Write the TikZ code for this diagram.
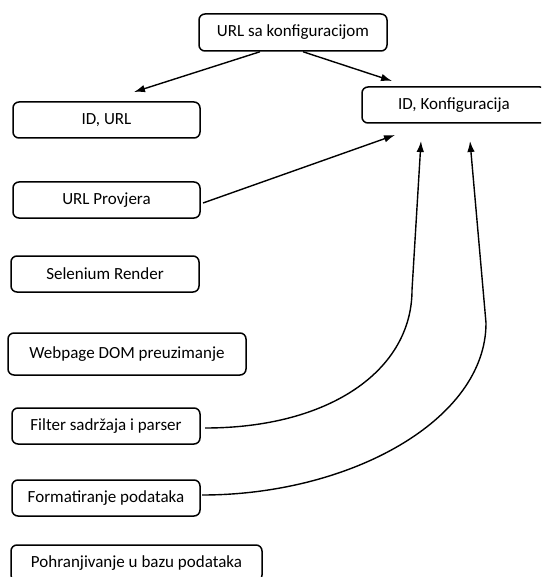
\documentclass[tikz,border=0pt]{standalone}
\usepackage{fontspec}
\setmainfont{Carlito}
\usetikzlibrary{arrows.meta}
\begin{document}
\begin{tikzpicture}[x=1pt,y=-1pt,
  box/.style={draw=black, line width=1.5pt, rounded corners=6pt, inner sep=0pt,
    font=\fontsize{17}{20}\selectfont, align=center},
  arr/.style={line width=1.4pt, -{Latex[length=11pt,width=7.5pt]}},
  lnk/.style={line width=1.4pt}]
\clip (0,0) rectangle (541,577);
\useasboundingbox (0,0) rectangle (541,577);
\fill[white] (0,0) rectangle (541,577);

\node[box, minimum width=188pt, minimum height=37pt] (top) at (293,32.5) {URL sa konfiguracijom};
\node[box, minimum width=187pt, minimum height=36pt] (idurl) at (106.5,120) {ID, URL};
\node[box, minimum width=184pt, minimum height=36pt] (idkonf) at (454,105) {ID, Konfiguracija};
\node[box, minimum width=187pt, minimum height=36pt] (urlprov) at (106.5,200) {URL Provjera};
\node[box, minimum width=188pt, minimum height=36pt] (selen) at (105,274) {Selenium Render};
\node[box, minimum width=238pt, minimum height=42pt] (webdom) at (127,354) {Webpage DOM preuzimanje};
\node[box, minimum width=188pt, minimum height=36pt] (filter) at (106,426) {Filter sadržaja i parser};
\node[box, minimum width=188pt, minimum height=36pt] (format) at (106,498) {Formatiranje podataka};
\node[box, minimum width=251pt, minimum height=36pt] (pohr) at (136.5,563) {Pohranjivanje u bazu podataka};

% connector end points
\coordinate (s1) at ([xshift=-33pt]top.south);
\coordinate (t1) at (134,92);
\coordinate (s2) at ([xshift=10pt]top.south);
\coordinate (t2) at (392,81);
\coordinate (s3) at (203,203);
\coordinate (t3) at (395,135);
\coordinate (s4) at (205,428);
\coordinate (m4) at (412,290);
\coordinate (t4) at (421,141);
\coordinate (s5) at (202,495);
\coordinate (m5) at (486,323);
\coordinate (t5) at (470,141);

\draw[arr] (s1) -- (t1);
\draw[arr] (s2) -- (t2);
\draw[arr] (s3) -- (t3);
\draw[arr] (s4) .. controls (330,428) and (412,370) .. (m4) -- (t4);
\draw[arr] (s5) .. controls (350,495) and (486,420) .. (m5) -- (t5);
\end{tikzpicture}
\end{document}
